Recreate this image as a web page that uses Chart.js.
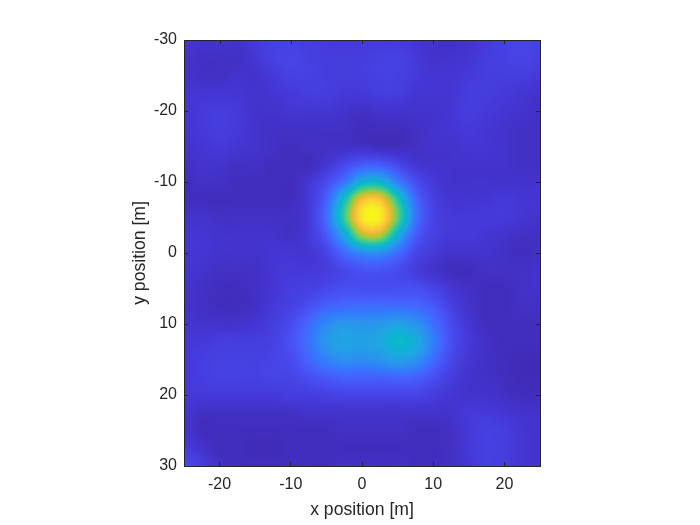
<!DOCTYPE html>
<html>
<head>
<meta charset="utf-8">
<script src="https://cdn.jsdelivr.net/npm/chart.js@4"></script>
<style>
html, body { margin:0; padding:0; background:#fff; }
#wrap { width:700px; height:525px; }
</style>
</head>
<body>
<div id="wrap"><canvas id="map" width="700" height="525"></canvas></div>
<script>
const xPositions = [-25,-22.5,-20,-17.5,-15,-12.5,-10,-7.5,-5,-2.5,0,2.5,5,7.5,10,12.5,15,17.5,20,22.5,25];
const yPositions = [-30,-27.5,-25,-22.5,-20,-17.5,-15,-12.5,-10,-7.5,-5,-2.5,0,2.5,5,7.5,10,12.5,15,17.5,20,22.5,25,27.5,30];
const xTicks = [-20,-10,0,10,20];
const yTicks = [-30,-20,-10,0,10,20,30];

// level, percent of the colour range, one row per y position
const levels = [
  [ 6, 5, 5, 5, 7, 9, 9, 8, 7, 7, 7, 7, 7, 6, 5, 4, 5, 7, 9,10, 9],
  [ 5, 4, 4, 4, 6, 9,10, 9, 8, 8, 8, 9, 9, 7, 5, 5, 6, 8, 9,10, 9],
  [ 5, 4, 4, 5, 5, 7, 9, 9, 8, 8, 8, 9, 9, 7, 6, 6, 7, 8, 8, 8, 7],
  [ 6, 6, 6, 6, 5, 6, 7, 8, 8, 7, 7, 8, 8, 6, 6, 6, 8, 8, 7, 6, 5],
  [ 6, 7, 8, 7, 5, 5, 6, 6, 6, 5, 4, 5, 5, 5, 5, 6, 8, 7, 6, 5, 4],
  [ 6, 7, 8, 7, 5, 4, 4, 4, 4, 4, 3, 3, 3, 4, 5, 6, 7, 6, 5, 4, 4],
  [ 5, 6, 7, 6, 5, 4, 3, 4, 4, 4, 4, 3, 3, 4, 5, 5, 6, 6, 5, 4, 4],
  [ 4, 5, 5, 4, 4, 3, 3, 3, 6,11,16,16,11, 6, 5, 5, 5, 5, 5, 4, 4],
  [ 3, 4, 4, 3, 3, 3, 3, 6,12,23,42,44,26,13, 7, 5, 5, 5, 5, 5, 5],
  [ 3, 3, 3, 3, 3, 3, 3, 7,18,48,82,84,53,21, 9, 6, 6, 6, 7, 6, 6],
  [ 5, 5, 4, 4, 4, 4, 4, 7,21,56,93,95,62,24,10, 7, 7, 7, 7, 6, 5],
  [ 6, 6, 5, 5, 5, 5, 4, 7,16,38,70,72,42,17, 9, 7, 7, 6, 5, 4, 4],
  [ 6, 6, 5, 5, 5, 6, 6, 6,10,20,29,30,21,11, 7, 5, 5, 5, 4, 3, 4],
  [ 6, 5, 4, 4, 4, 6, 7, 7, 8,11,14,14,12, 8, 5, 3, 3, 4, 4, 4, 5],
  [ 5, 4, 3, 3, 4, 6, 8, 9,11,13,13,13,13,13,10, 6, 4, 3, 3, 4, 5],
  [ 5, 4, 3, 3, 4, 7, 9,13,18,20,21,21,21,20,16, 9, 5, 3, 3, 4, 4],
  [ 6, 5, 5, 5, 6, 8,12,20,29,33,32,33,36,32,22,12, 6, 3, 3, 3, 3],
  [ 7, 7, 8, 8, 8, 9,14,22,33,37,36,38,46,40,26,13, 7, 4, 3, 3, 3],
  [ 7, 8, 9, 9, 9,10,12,19,27,31,30,32,36,32,21,11, 6, 4, 3, 2, 2],
  [ 7, 8, 9, 9, 9,10,10,13,16,18,18,18,19,18,13, 8, 5, 4, 3, 2, 2],
  [ 7, 7, 7, 7, 7, 7, 8, 8, 9,10,10,10,10,10, 8, 6, 5, 5, 4, 3, 3],
  [ 6, 4, 4, 4, 4, 4, 4, 5, 5, 5, 5, 5, 5, 5, 5, 5, 7, 7, 6, 5, 5],
  [ 6, 3, 3, 3, 3, 3, 3, 3, 3, 4, 4, 4, 4, 3, 3, 4, 7, 9, 8, 6, 5],
  [ 8, 5, 3, 3, 2, 2, 3, 3, 3, 3, 3, 3, 3, 3, 3, 4, 7, 9, 8, 6, 5],
  [12, 8, 4, 3, 3, 3, 3, 3, 3, 4, 4, 4, 4, 3, 3, 4, 6, 9, 8, 6, 5]
];

// parula, every 4th entry
const palette = [
  [.2422,.1504,.6603],[.2706,.2147,.8364],[.2813,.3006,.9414],[.2699,.3892,.9906],
  [.1963,.4847,.9892],[.1687,.5703,.9359],[.1248,.6459,.8883],[.0297,.7082,.8163],
  [.0964,.7500,.7120],[.2161,.7843,.5923],[.3909,.8029,.4354],[.6174,.7876,.2612],
  [.8203,.7498,.1535],[.9728,.7298,.2394],[.9892,.8136,.1885],[.9597,.9135,.1423],
  [.9769,.9839,.0805]
];

function colourAt(p) {
  const t = Math.max(0, Math.min(1, p / 100)) * (palette.length - 1);
  const i = Math.min(palette.length - 2, Math.floor(t)), f = t - i;
  return palette[i].map((c, k) => 255 * (c + (palette[i+1][k] - c) * f));
}

function cubic(a, b, c, d, t) {
  return b + .5 * t * (c - a + t * (2*a - 5*b + 4*c - d + t * (3*(b - c) + d - a)));
}

function levelAt(x, y) {
  const fx = (x + 25) / 2.5, fy = (y + 30) / 2.5;
  const ix = Math.max(0, Math.min(xPositions.length - 2, Math.floor(fx)));
  const iy = Math.max(0, Math.min(yPositions.length - 2, Math.floor(fy)));
  const col = i => Math.max(0, Math.min(xPositions.length - 1, i));
  const row = j => levels[Math.max(0, Math.min(yPositions.length - 1, j))];
  const across = j => cubic(row(j)[col(ix-1)], row(j)[col(ix)], row(j)[col(ix+1)], row(j)[col(ix+2)], fx - ix);
  return cubic(across(iy-1), across(iy), across(iy+1), across(iy+2), fy - iy);
}

const heatPlugin = {
  id:'heat',
  beforeDatasetsDraw(chart) {
    const { ctx, chartArea:a, scales:{ x:sx, y:sy } } = chart;
    const w = Math.round(a.right - a.left), h = Math.round(a.bottom - a.top);
    const img = ctx.createImageData(w, h);
    for (let r = 0; r < h; r++) {
      const yv = sy.getValueForPixel(a.top + r + .5);
      for (let c = 0; c < w; c++) {
        const rgb = colourAt(levelAt(sx.getValueForPixel(a.left + c + .5), yv));
        const o = (r * w + c) * 4;
        img.data[o] = rgb[0]; img.data[o+1] = rgb[1]; img.data[o+2] = rgb[2]; img.data[o+3] = 255;
      }
    }
    ctx.putImageData(img, Math.round(a.left), Math.round(a.top));
  },
  afterDraw(chart) {
    const { ctx, chartArea:a, scales:{ x:sx, y:sy } } = chart;
    ctx.save();
    ctx.strokeStyle = '#262626'; ctx.lineWidth = 1;
    ctx.beginPath();
    xTicks.forEach(v => { const p = Math.round(sx.getPixelForValue(v)) + .5; ctx.moveTo(p, a.top); ctx.lineTo(p, a.top + 4); });
    yTicks.forEach(v => { const p = Math.round(sy.getPixelForValue(v)) + .5; ctx.moveTo(a.right, p); ctx.lineTo(a.right - 4, p); });
    ctx.stroke();
    ctx.strokeRect(Math.round(a.left) + .5, Math.round(a.top) + .5, Math.round(a.right - a.left), Math.round(a.bottom - a.top));
    ctx.restore();
  }
};

const points = [];
yPositions.forEach((y, j) => xPositions.forEach((x, i) => points.push({ x, y, v:levels[j][i] })));

const tickFont = { family:'"Liberation Sans", Arial, sans-serif', size:16 };
const titleFont = { family:'"Liberation Sans", Arial, sans-serif', size:17.6 };

new Chart(document.getElementById('map'), {
  type:'scatter',
  data:{ datasets:[{ data:points, pointRadius:0, pointHoverRadius:0 }] },
  options:{
    responsive:false, animation:false,
    layout:{ padding:{ left:130, right:160, top:40, bottom:2 } },
    plugins:{ legend:{ display:false }, tooltip:{ enabled:false } },
    scales:{
      x:{
        type:'linear', min:-25, max:25,
        afterBuildTicks: s => { s.ticks = xTicks.map(value => ({ value })); },
        afterFit: s => { s.height = 57; },
        ticks:{ color:'#262626', font:tickFont, maxRotation:0, padding:13, callback:v => String(v) },
        grid:{ drawOnChartArea:false, tickLength:-4, tickColor:'#262626', z:1 },
        border:{ display:false },
        title:{ display:true, text:'x position [m]', color:'#262626', font:titleFont, padding:{ top:0, bottom:2 } }
      },
      y:{
        type:'linear', min:-30, max:30, reverse:true,
        afterBuildTicks: s => { s.ticks = yTicks.map(value => ({ value })); },
        afterFit: s => { s.width = 54; },
        ticks:{ color:'#262626', font:tickFont, padding:11, callback:v => String(v) },
        grid:{ drawOnChartArea:false, tickLength:-4, tickColor:'#262626', z:1 },
        border:{ display:false },
        title:{ display:true, text:'y position [m]', color:'#262626', font:titleFont, padding:{ top:0, bottom:0 } }
      }
    }
  },
  plugins:[heatPlugin]
});
</script>
</body>
</html>
